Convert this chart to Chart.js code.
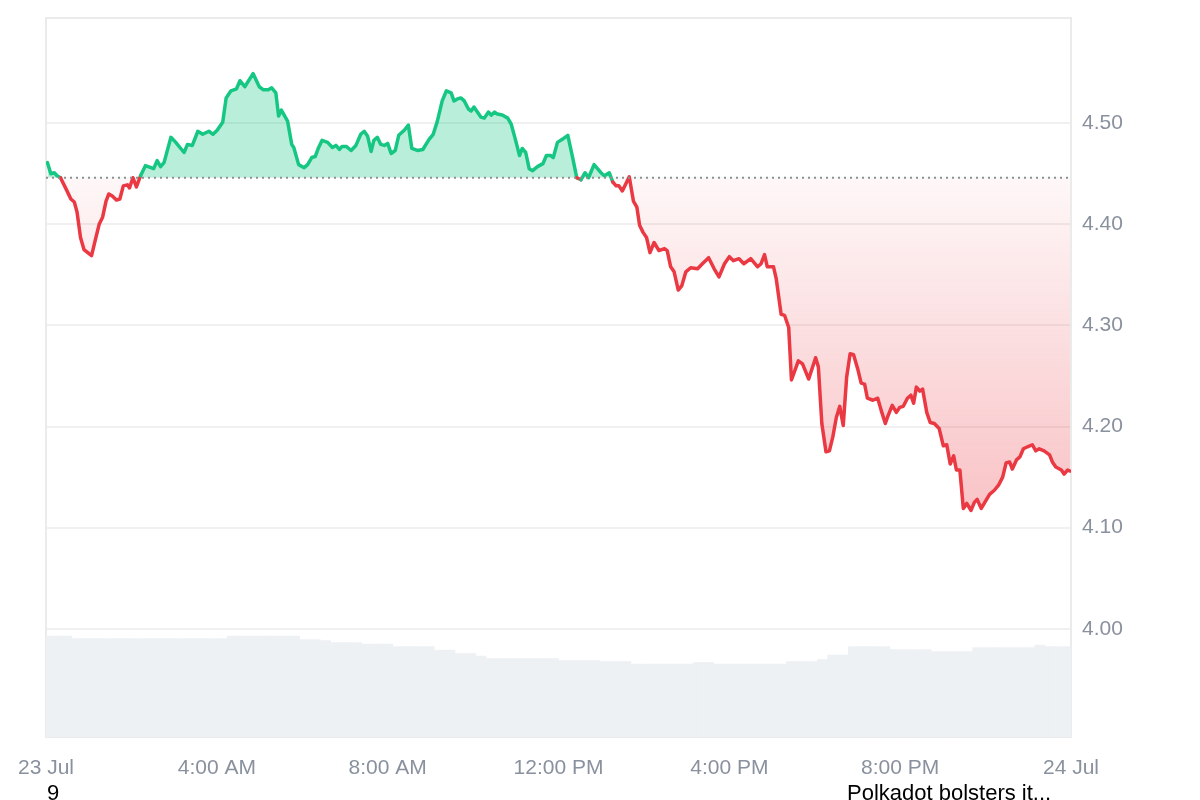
<!DOCTYPE html>
<html>
<head>
<meta charset="utf-8">
<script src="https://cdn.jsdelivr.net/npm/chart.js@4.4.0/dist/chart.umd.min.js"></script>
<style>
  body { margin: 0; background: #fff; }
  #wrap { position: relative; width: 1200px; height: 800px; overflow: hidden; }
  .note { position: absolute; top: 780px; font-family: Arial, "Liberation Sans", sans-serif; font-size: 22px; color: #000; white-space: nowrap; }
</style>
</head>
<body>
<div id="wrap">
  <canvas id="priceChart" width="1200" height="800"></canvas>
  <div class="note" style="left:47px;">9</div>
  <div class="note" style="left:847px;">Polkadot bolsters it...</div>
</div>
<script>
// Price data (minutes since 23 Jul 00:00, USD)
const times = [
    2, 7, 12, 16, 21, 29, 36, 41, 45, 50,
    55, 66, 72, 77, 82, 87, 91, 96, 102, 107,
    112, 118, 121, 126, 131, 137, 144, 152, 156, 161,
    166, 171, 181, 188, 200, 205, 212, 220, 227, 236,
    242, 248, 256, 261, 268, 276, 281, 288, 300, 309,
    315, 322, 327, 333, 337, 341, 350, 356, 359, 366,
    374, 379, 385, 390, 395, 400, 408, 415, 420, 425,
    429, 435, 442, 449, 456, 461, 466, 471, 475, 480,
    485, 490, 495, 500, 506, 511, 519, 525, 530, 538,
    546, 555, 561, 567, 574, 580, 587, 591, 596, 601,
    606, 612, 616, 620, 625, 630, 635, 641, 645, 650,
    654, 661, 669, 674, 680, 686, 690, 695, 700, 705,
    712, 720, 725, 731, 735, 741, 748, 756, 763, 769,
    775, 781, 786, 794, 804, 809, 816, 821, 826, 830,
    835, 845, 851, 856, 860, 865, 870, 875, 881, 888,
    896, 900, 905, 910, 916, 921, 927, 934, 944, 951,
    960, 968, 975, 983, 990, 996, 1004, 1011, 1021, 1031,
    1036, 1041, 1045, 1054, 1058, 1065, 1070, 1076, 1080, 1090,
    1096, 1105, 1115, 1119, 1124, 1130, 1135, 1140, 1145, 1150,
    1155, 1160, 1165, 1170, 1176, 1181, 1186, 1190, 1198, 1205,
    1210, 1216, 1219, 1226, 1232, 1237, 1242, 1248, 1253, 1257,
    1261, 1266, 1270, 1276, 1281, 1287, 1294, 1300, 1305, 1310,
    1315, 1319, 1324, 1329, 1334, 1340, 1345, 1349, 1355, 1367,
    1374, 1380, 1386, 1391, 1396, 1400, 1406, 1411, 1416, 1422,
    1429, 1434, 1439, 1446, 1454, 1458, 1463, 1471, 1475, 1480,
    1484
];
const prices = [
    4.461, 4.450, 4.451, 4.448, 4.446, 4.435, 4.425, 4.422, 4.412, 4.387,
    4.375, 4.369, 4.386, 4.400, 4.407, 4.423, 4.430, 4.428, 4.424, 4.425,
    4.438, 4.439, 4.436, 4.446, 4.437, 4.448, 4.458, 4.456, 4.455, 4.463,
    4.457, 4.461, 4.486, 4.481, 4.471, 4.479, 4.478, 4.492, 4.489, 4.492,
    4.489, 4.493, 4.501, 4.525, 4.532, 4.534, 4.542, 4.536, 4.549, 4.536,
    4.533, 4.533, 4.535, 4.530, 4.507, 4.513, 4.502, 4.479, 4.476, 4.459,
    4.456, 4.459, 4.466, 4.467, 4.476, 4.483, 4.481, 4.476, 4.478, 4.474,
    4.477, 4.477, 4.473, 4.478, 4.489, 4.492, 4.487, 4.472, 4.483, 4.486,
    4.479, 4.478, 4.480, 4.470, 4.473, 4.488, 4.493, 4.498, 4.475, 4.473,
    4.474, 4.484, 4.489, 4.502, 4.522, 4.532, 4.530, 4.522, 4.524, 4.525,
    4.522, 4.514, 4.512, 4.516, 4.511, 4.506, 4.505, 4.511, 4.508, 4.511,
    4.509, 4.508, 4.505, 4.499, 4.484, 4.468, 4.475, 4.471, 4.455, 4.453,
    4.457, 4.460, 4.468, 4.468, 4.466, 4.481, 4.484, 4.488, 4.466, 4.446,
    4.444, 4.451, 4.446, 4.459, 4.451, 4.448, 4.451, 4.442, 4.438, 4.438,
    4.433, 4.447, 4.423, 4.417, 4.399, 4.392, 4.387, 4.372, 4.382, 4.374,
    4.376, 4.374, 4.358, 4.353, 4.335, 4.339, 4.353, 4.357, 4.356, 4.361,
    4.367, 4.356, 4.348, 4.361, 4.368, 4.364, 4.366, 4.361, 4.366, 4.358,
    4.361, 4.370, 4.358, 4.358, 4.346, 4.311, 4.310, 4.298, 4.246, 4.265,
    4.262, 4.247, 4.268, 4.259, 4.203, 4.175, 4.176, 4.190, 4.209, 4.220,
    4.201, 4.249, 4.272, 4.271, 4.257, 4.243, 4.242, 4.228, 4.226, 4.228,
    4.216, 4.203, 4.209, 4.221, 4.214, 4.219, 4.220, 4.228, 4.231, 4.223,
    4.239, 4.235, 4.237, 4.214, 4.204, 4.203, 4.198, 4.181, 4.182, 4.163,
    4.171, 4.157, 4.157, 4.119, 4.124, 4.117, 4.125, 4.128, 4.119, 4.133,
    4.137, 4.142, 4.150, 4.164, 4.165, 4.158, 4.167, 4.170, 4.178, 4.180,
    4.182, 4.176, 4.178, 4.176, 4.172, 4.165, 4.160, 4.157, 4.153, 4.157,
    4.156
];
const baselinePrice = 4.446; // price at the start of the period (dotted line)

// Volume bars, one every 15 minutes (millions USD)
const volumeStep = 15;
const volumes = [
    202, 202, 202, 197, 197, 197, 197, 197, 197, 197,
    197, 197, 197, 197, 197, 197, 197, 197, 202, 202,
    202, 202, 202, 202, 202, 195, 195, 193, 189, 189,
    189, 186, 186, 186, 181, 181, 181, 181, 174, 174,
    167, 167, 162, 157, 157, 157, 157, 157, 157, 157,
    153, 153, 153, 153, 151, 151, 151, 146, 146, 146,
    146, 146, 146, 149, 149, 146, 146, 146, 146, 146,
    146, 146, 151, 151, 151, 155, 164, 164, 181, 181,
    181, 181, 175, 175, 175, 175, 171, 171, 171, 171,
    179, 179, 179, 179, 179, 179, 184, 181, 181, 181
];

// Axis labels
const tickStep = 240;
const tickLabels = ['23 Jul', '4:00 AM', '8:00 AM', '12:00 PM', '4:00 PM', '8:00 PM', '24 Jul'];
const priceTicks = [4.0, 4.1, 4.2, 4.3, 4.4, 4.5];

const green = '#16c784';
const red = '#ea3943';
const labelColor = '#8a919e';

Chart.defaults.font.family = 'Arial, "Liberation Sans", sans-serif';
Chart.defaults.font.size = 21;

// Light frame around the plot area
const framePlugin = {
    id: 'frame',
    beforeDatasetsDraw(chart) {
        const { ctx, chartArea: a } = chart;
        ctx.save();
        ctx.strokeStyle = '#ebebeb';
        ctx.lineWidth = 2;
        ctx.strokeRect(a.left, a.top, a.right - a.left, a.bottom - a.top);
        ctx.restore();
    }
};

// Dotted line at the opening price
const baselinePlugin = {
    id: 'baseline',
    afterDatasetsDraw(chart) {
        const { ctx, chartArea: a } = chart;
        const y = chart.scales.y.getPixelForValue(baselinePrice);
        ctx.save();
        ctx.strokeStyle = '#8f8f8f';
        ctx.lineWidth = 2;
        ctx.setLineDash([2, 4]);
        ctx.beginPath();
        ctx.moveTo(a.left, y);
        ctx.lineTo(a.right, y);
        ctx.stroke();
        ctx.restore();
    }
};

const chartCtx = document.getElementById('priceChart').getContext('2d');
const priceChart = new Chart(chartCtx, {
    type: 'line',
    data: {
        datasets: [{
            type: 'line',
            label: 'Price',
            data: times.map((t, i) => ({ x: t, y: prices[i] })),
            borderColor: red,
            borderWidth: 3.5,
            borderJoinStyle: 'round',
            borderCapStyle: 'round',
            pointRadius: 0,
            tension: 0,
            order: 0,
            segment: {
                borderColor: c => ((c.p0.parsed.y + c.p1.parsed.y) / 2 >= baselinePrice ? green : red)
            },
            fill: (c) => {
                const chart = c.chart;
                let below = 'rgba(234,57,67,0.12)';
                if (chart.chartArea && chart.scales.y) {
                    const ys = chart.scales.y;
                    const g = chart.ctx.createLinearGradient(0, ys.getPixelForValue(baselinePrice), 0, ys.getPixelForValue(Math.min(...prices)));
                    g.addColorStop(0, 'rgba(234,57,67,0.04)');
                    g.addColorStop(1, 'rgba(234,57,67,0.3)');
                    below = g;
                }
                return { target: { value: baselinePrice }, above: 'rgba(22,199,132,0.3)', below: below };
            }
        }, {
            type: 'bar',
            label: 'Volume',
            data: volumes.map((v, i) => ({ x: i * volumeStep, y: v })),
            yAxisID: 'yv',
            backgroundColor: '#eef1f4',
            borderWidth: 0,
            barPercentage: 1,
            categoryPercentage: 1,
            order: 1
        }]
    },
    options: {
        responsive: false,
        animation: false,
        layout: { padding: { left: 46, top: 18, right: 0, bottom: 0 } },
        plugins: { legend: { display: false }, tooltip: { enabled: false } },
        scales: {
            x: {
                type: 'linear',
                min: 0,
                max: 1485,
                offset: false,
                grid: { display: false, drawTicks: false, offset: false },
                border: { display: false },
                ticks: {
                    stepSize: tickStep,
                    includeBounds: false,
                    autoSkip: false,
                    maxRotation: 0,
                    padding: 19,
                    color: labelColor,
                    callback: v => tickLabels[Math.round(v / tickStep)]
                },
                afterFit: s => { s.height = 63; s.paddingLeft = 0; s.paddingRight = 0; }
            },
            y: {
                position: 'right',
                min: 3.893,
                max: 4.604,
                grid: { color: '#f0f0f0', lineWidth: 2, drawTicks: false },
                border: { display: false },
                ticks: {
                    padding: 11,
                    color: labelColor,
                    callback: v => v.toFixed(2)
                },
                afterBuildTicks: s => { s.ticks = priceTicks.map(v => ({ value: v })); },
                afterFit: s => { s.width = 129; s.paddingTop = 0; s.paddingBottom = 0; }
            },
            yv: {
                display: false,
                min: 0,
                max: 1438
            }
        }
    },
    plugins: [framePlugin, baselinePlugin]
});
</script>
</body>
</html>
